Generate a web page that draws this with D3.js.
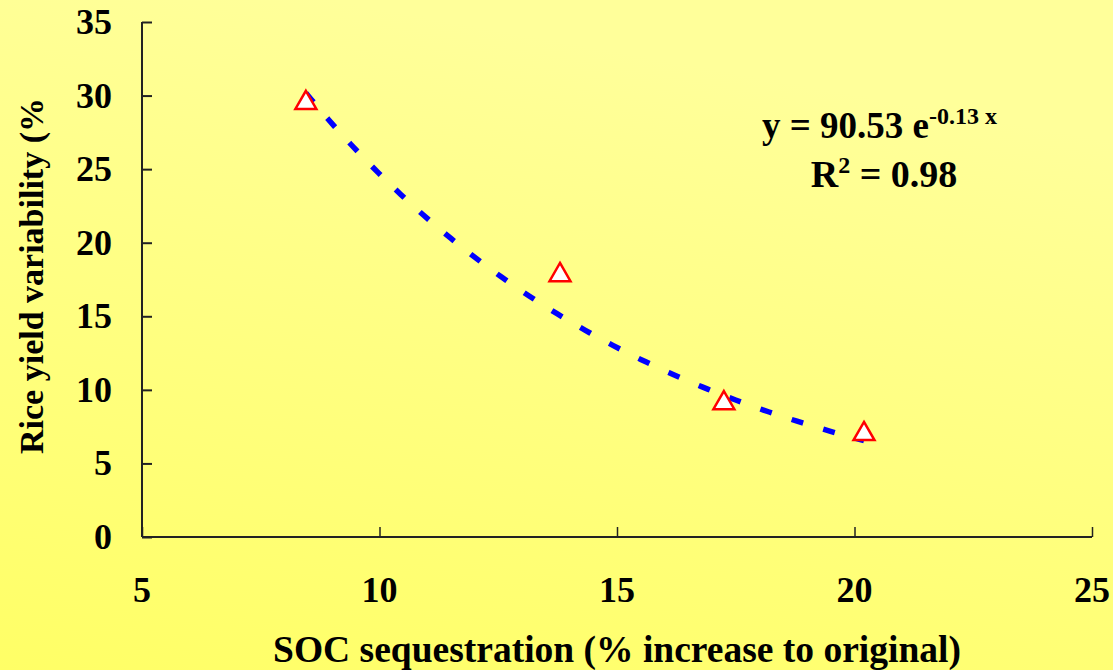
<!DOCTYPE html>
<html>
<head>
<meta charset="utf-8">
<script src="https://cdn.jsdelivr.net/npm/d3@7"></script>
<style>
  html, body { margin: 0; padding: 0; }
  svg { display: block; }
</style>
</head>
<body>
<svg id="chart" width="1113" height="670"></svg>
<script>
// Observed points: SOC sequestration (%) vs rice yield variability (%)
const socIncrease = [8.45, 13.8, 17.25, 20.2];
const yieldVariability = [29.5, 17.8, 9.1, 7.0];

// Exponential trend y = a * e^(b x)
const trendA = 90.53;
const trendB = -0.13;
const r2 = 0.98;

const xTicks = [5, 10, 15, 20, 25];
const yTicks = [0, 5, 10, 15, 20, 25, 30, 35];

const W = 1113, H = 670;
const svg = d3.select("#chart");

// Background gradient
const defs = svg.append("defs");
const grad = defs.append("linearGradient")
  .attr("id", "bg").attr("x1", "0.3").attr("y1", "0").attr("x2", "0").attr("y2", "1");
grad.append("stop").attr("offset", "0").attr("stop-color", "#ffff9a");
grad.append("stop").attr("offset", "1").attr("stop-color", "#ffff66");
svg.append("rect").attr("width", W).attr("height", H).attr("fill", "url(#bg)");

const x = d3.scaleLinear().domain([5, 25]).range([142, 1092]);
const y = d3.scaleLinear().domain([0, 35]).range([537, 22]);

const font = "'Liberation Serif', 'Times New Roman', serif";

// Y axis
const yAxis = svg.append("g").attr("transform", `translate(${x(5)},0)`)
  .call(d3.axisRight(y).tickValues(yTicks).tickSize(10).tickFormat(""));
yAxis.select(".domain").attr("d", `M0,${y(35)}V${y(0)}`).attr("stroke", "#222").attr("stroke-width", 2);
yAxis.selectAll(".tick line").attr("stroke", "#222").attr("stroke-width", 2);

// X axis
const xAxis = svg.append("g").attr("transform", `translate(0,${y(0)})`)
  .call(d3.axisTop(x).tickValues(xTicks).tickSize(10).tickFormat(""));
xAxis.select(".domain").attr("d", `M${x(5)},0H${x(25)}`).attr("stroke", "#222").attr("stroke-width", 2);
xAxis.selectAll(".tick line").attr("stroke", "#222").attr("stroke-width", 1.5);

// Tick labels
svg.append("g").selectAll("text").data(yTicks).join("text")
  .attr("x", 112).attr("y", d => y(d) + 12)
  .attr("text-anchor", "end")
  .attr("font-family", font).attr("font-weight", "bold").attr("font-size", 36)
  .attr("fill", "#000").text(d => d);

svg.append("g").selectAll("text").data(xTicks).join("text")
  .attr("x", d => x(d)).attr("y", 602)
  .attr("text-anchor", "middle")
  .attr("font-family", font).attr("font-weight", "bold").attr("font-size", 36)
  .attr("fill", "#000").text(d => d);

// Axis titles
svg.append("text")
  .attr("x", 617).attr("y", 662)
  .attr("text-anchor", "middle")
  .attr("font-family", font).attr("font-weight", "bold").attr("font-size", 37.5)
  .attr("fill", "#000").text("SOC sequestration (% increase to original)");

svg.append("text")
  .attr("transform", "translate(43,276) rotate(-90)")
  .attr("text-anchor", "middle")
  .attr("font-family", font).attr("font-weight", "bold").attr("font-size", 34)
  .attr("fill", "#000").text("Rice yield variability (%");

// Trend line
const xMin = d3.min(socIncrease), xMax = d3.max(socIncrease);
const trendPts = d3.range(0, 101).map(i => {
  const xv = xMin + (xMax - xMin) * i / 100;
  return [xv, trendA * Math.exp(trendB * xv)];
});
svg.append("path")
  .datum(trendPts)
  .attr("d", d3.line().x(d => x(d[0])).y(d => y(d[1])))
  .attr("fill", "none")
  .attr("stroke", "#0000ff")
  .attr("stroke-width", 5.5)
  .attr("stroke-dasharray", "12,21");

// Triangle markers
const tri = d3.symbol().type(d3.symbolTriangle).size(190);
svg.append("g").selectAll("path").data(socIncrease).join("path")
  .attr("transform", (d, i) => `translate(${x(d)},${y(yieldVariability[i])})`)
  .attr("d", tri)
  .attr("fill", "#ffffff")
  .attr("stroke", "#ff0000")
  .attr("stroke-width", 2.5);

// Equation annotation
const eq = svg.append("text")
  .attr("x", 762).attr("y", 138)
  .attr("font-family", font).attr("font-weight", "bold").attr("font-size", 37)
  .attr("fill", "#000");
eq.append("tspan").text(`y = ${trendA.toFixed(2)} e`);
eq.append("tspan").attr("dy", -14).attr("font-size", 24).text(`${trendB.toFixed(2)} x`);

const r = svg.append("text")
  .attr("x", 884).attr("y", 187)
  .attr("text-anchor", "middle")
  .attr("font-family", font).attr("font-weight", "bold").attr("font-size", 38)
  .attr("fill", "#000");
r.append("tspan").text("R");
r.append("tspan").attr("dy", -14).attr("font-size", 24).text("2");
r.append("tspan").attr("dy", 14).text(` = ${r2.toFixed(2)}`);
</script>
</body>
</html>
